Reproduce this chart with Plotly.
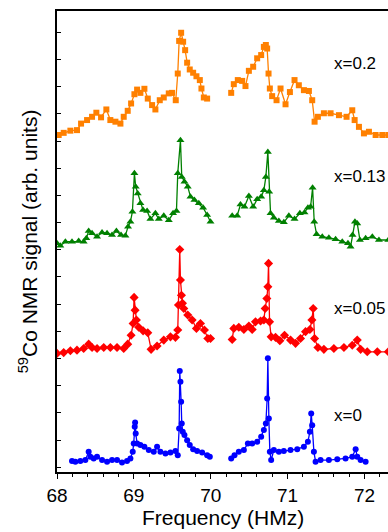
import plotly.graph_objects as go

# ---------------- data ----------------
f_x0 = [68.195, 68.239, 68.304, 68.369, 68.412, 68.434, 68.477, 68.521, 68.586, 68.651, 68.716, 68.781,
        68.846, 68.911, 68.955, 68.985, 68.998, 69.011, 69.016, 69.024, 69.042, 69.085, 69.137, 69.194,
        69.259, 69.302, 69.345, 69.411, 69.476, 69.541, 69.571, 69.589, 69.597, 69.606, 69.615, 69.623,
        69.636, 69.658, 69.693, 69.727, 69.771, 69.823, 69.888, 69.953, 69.988, None,
        70.266, 70.309, 70.365, 70.431, 70.483, 70.539, 70.604, 70.656, 70.691, 70.717, 70.734, 70.743,
        70.756, 70.769, 70.786, 70.821, 70.886, 70.951, 71.038, 71.125, 71.212, 71.264, 71.290, 71.307,
        71.320, 71.342, 71.364, 71.429, 71.537, 71.646, 71.754, 71.841, 71.885, 71.906, 71.950, 72.015]
s_x0 = [0.23, 0.21, 0.23, 0.27, 0.57, 0.39, 0.33, 0.39, 0.27, 0.21, 0.27, 0.27,
        0.18, 0.23, 0.33, 0.57, 0.88, 1.49, 1.65, 1.25, 0.88, 0.82, 0.76, 0.64,
        0.57, 0.76, 0.57, 0.51, 0.55, 0.60, 0.45, 1.43, 3.54, 3.15, 2.41, 1.61,
        1.31, 1.19, 1.00, 0.82, 0.67, 0.60, 0.55, 0.45, 0.39, None,
        0.33, 0.45, 0.57, 0.64, 0.88, 0.88, 0.94, 1.13, 1.37, 1.61, 2.53, 4.01,
        1.80, 0.57, 0.27, 0.64, 0.57, 0.60, 0.64, 0.67, 0.76, 0.94, 1.31, 1.98,
        1.55, 0.57, 0.21, 0.27, 0.27, 0.30, 0.33, 0.39, 0.67, 0.39, 0.27, 0.21]

f_x005 = [68.000, 68.087, 68.174, 68.260, 68.347, 68.412, 68.456, 68.521, 68.608, 68.694, 68.781, 68.868,
          68.920, 68.964, 68.990, 69.003, 69.016, 69.033, 69.063, 69.120, 69.181, 69.224, 69.302, 69.389,
          69.476, 69.541, 69.571, 69.580, 69.597, 69.606, 69.619, 69.632, 69.649, 69.701, 69.758, 69.814,
          69.866, 69.918, 69.962, 69.997, None,
          70.279, 70.300, 70.365, 70.431, 70.496, 70.539, 70.582, 70.648, 70.691, 70.708, 70.730, 70.743,
          70.752, 70.765, 70.786, 70.843, 70.899, 70.960, 71.038, 71.103, 71.168, 71.233, 71.290, 71.316,
          71.333, 71.351, 71.394, 71.472, 71.602, 71.733, 71.841, 71.906, 71.950, 72.036, 72.167, 72.310]
s_x005 = [4.19, 4.22, 4.29, 4.31, 4.37, 4.53, 4.41, 4.37, 4.41, 4.41, 4.41, 4.37,
          4.53, 4.86, 5.29, 6.25, 5.78, 5.42, 5.15, 5.02, 4.95, 4.34, 4.46, 4.68,
          4.80, 4.78, 5.05, 5.97, 8.01, 6.89, 6.33, 6.03, 5.84, 5.60, 5.42, 5.11,
          5.29, 5.05, 4.74, 4.74, None,
          4.70, 5.11, 5.15, 5.07, 5.20, 5.07, 5.35, 5.38, 5.42, 5.84, 6.21, 6.64,
          7.50, 5.35, 4.80, 4.78, 4.66, 4.86, 4.68, 4.56, 4.74, 4.99, 5.07, 5.42,
          5.84, 4.74, 4.41, 4.34, 4.37, 4.41, 4.49, 4.68, 4.34, 4.25, 4.25, 4.25]

f_x013 = [68.000, 68.043, 68.109, 68.195, 68.282, 68.347, 68.382, 68.412, 68.456, 68.521, 68.586, 68.651,
          68.716, 68.773, 68.833, 68.890, 68.924, 68.955, 68.981, 69.007, 69.024, 69.050, 69.085, 69.120,
          69.172, 69.215, 69.280, 69.324, 69.389, 69.454, 69.510, 69.554, 69.571, 69.606, 69.623, 69.658,
          69.701, 69.736, 69.788, 69.845, 69.901, 69.953, 69.997, None,
          70.279, 70.344, 70.387, 70.439, 70.496, 70.552, 70.604, 70.656, 70.691, 70.717, 70.743, 70.760,
          70.778, 70.821, 70.886, 70.951, 71.016, 71.090, 71.160, 71.220, 71.264, 71.299, 71.325, 71.346,
          71.377, 71.451, 71.537, 71.624, 71.711, 71.785, 71.819, 71.845, 71.876, 71.906, 71.941, 72.015,
          72.102, 72.188, 72.310]
s_x013 = [8.24, 8.15, 8.30, 8.30, 8.32, 8.30, 8.42, 8.69, 8.61, 8.48, 8.64, 8.61,
          8.54, 8.69, 8.54, 8.52, 8.85, 9.03, 9.40, 10.81, 10.32, 10.07, 9.71, 9.46,
          9.43, 9.13, 9.34, 9.13, 9.25, 9.09, 9.34, 9.43, 10.81, 12.03, 10.68, 10.50,
          10.32, 9.95, 9.83, 9.71, 9.55, 9.28, 9.03, None,
          9.25, 9.25, 9.67, 9.58, 9.98, 9.58, 9.86, 9.95, 10.19, 10.68, 11.60, 10.13,
          9.34, 9.18, 9.06, 9.01, 9.25, 9.13, 9.34, 9.37, 9.55, 9.58, 10.28, 9.03,
          8.57, 8.48, 8.44, 8.39, 8.30, 8.24, 8.11, 8.54, 9.03, 8.97, 8.36, 8.42,
          8.48, 8.36, 8.36]

f_x02 = [68.022, 68.087, 68.174, 68.260, 68.313, 68.391, 68.456, 68.512, 68.573, 68.642, 68.694, 68.760,
         68.825, 68.868, 68.920, 68.964, 69.007, 69.042, 69.085, 69.137, 69.181, 69.237, 69.280, 69.337,
         69.389, 69.454, 69.497, 69.545, 69.571, 69.589, 69.615, 69.641, 69.667, 69.693, 69.727, 69.771,
         69.814, 69.858, 69.879, 69.910, 69.953, None,
         70.266, 70.300, 70.352, 70.409, 70.452, 70.496, 70.552, 70.604, 70.656, 70.691, 70.717, 70.734,
         70.752, 70.769, 70.799, 70.856, 70.908, 70.973, 71.030, 71.090, 71.146, 71.212, 71.277, 71.320,
         71.351, 71.394, 71.472, 71.559, 71.668, 71.767, 71.841, 71.872, 71.928, 71.993, 72.058, 72.145,
         72.232, 72.310]
s_x02 = [12.22, 12.30, 12.38, 12.40, 12.64, 12.77, 12.89, 13.04, 12.87, 13.16, 12.77, 12.71,
         12.64, 12.89, 13.11, 13.38, 13.72, 13.89, 13.77, 13.92, 13.56, 13.32, 13.16, 13.50,
         13.60, 13.75, 13.77, 13.50, 14.48, 15.68, 15.98, 15.65, 15.34, 14.88, 14.63, 14.51,
         14.38, 14.24, 13.93, 13.60, 13.56, None,
         13.77, 14.09, 14.24, 14.21, 14.02, 14.58, 14.73, 15.04, 15.16, 15.46, 15.53, 15.40,
         14.48, 13.93, 13.65, 13.50, 13.93, 13.35, 13.80, 14.24, 14.05, 13.87, 13.84, 13.50,
         12.71, 12.89, 13.02, 13.02, 12.95, 12.89, 13.13, 12.77, 12.52, 12.28, 12.34, 12.22,
         12.22, 12.22]

series_labels = ["x=0", "x=0.05", "x=0.13", "x=0.2"]
label_y = [1.90, 5.85, 10.68, 14.86]
label_x = 71.577

x_ticks = [68, 69, 70, 71, 72]

# ---------------- figure ----------------
FONT = "Liberation Sans, Arial, sans-serif"
fig = go.Figure()

specs = [
    (f_x0, s_x0, "#0000FF", "circle", 6),
    (f_x005, s_x005, "#FF0000", "diamond", 7),
    (f_x013, s_x013, "#008000", "triangle-up", 7),
    (f_x02, s_x02, "#FF8000", "square", 6),
]
for fx, sy, col, sym, sz in specs:
    fig.add_trace(go.Scatter(
        x=fx, y=sy, mode="lines+markers", connectgaps=False,
        line=dict(color=col, width=1.3),
        marker=dict(color=col, symbol=sym, size=sz, line=dict(width=0)),
        showlegend=False, hoverinfo="skip"))

for txt, yy in zip(series_labels, label_y):
    fig.add_annotation(x=label_x, y=yy, xref="x", yref="y", text=txt, showarrow=False,
                       xanchor="left", yanchor="middle",
                       font=dict(family=FONT, size=17, color="black"))

fig.add_annotation(x=-0.088, y=0.5, xref="paper", yref="paper",
                   text="<sup>59</sup>Co NMR signal (arb. units)", textangle=-90,
                   showarrow=False, xanchor="center", yanchor="middle",
                   font=dict(family=FONT, size=21, color="black"))
fig.add_annotation(x=0.5, y=-0.099, xref="paper", yref="paper",
                   text="Frequency (HMz)", showarrow=False,
                   xanchor="center", yanchor="middle",
                   font=dict(family=FONT, size=21, color="black"))

xr = [68, 72.306]
fig.update_layout(
    width=388, height=532,
    margin=dict(l=57, r=0, t=11, b=60),
    plot_bgcolor="white", paper_bgcolor="white",
    font=dict(family=FONT, color="black"),
    xaxis=dict(range=xr, tickmode="array", tickvals=x_ticks, ticktext=[str(t) for t in x_ticks],
               ticks="outside", ticklen=5, tickwidth=1.2, tickcolor="black",
               minor=dict(dtick=0.2, ticks="outside", ticklen=3, tickwidth=1, tickcolor="black"),
               showline=True, linewidth=2, linecolor="black", mirror=True,
               showgrid=False, zeroline=False,
               tickfont=dict(family=FONT, size=19, color="black")),
    yaxis=dict(range=[-0.17, 16.78], tick0=0, dtick=1, ticks="inside", ticklen=4,
               tickwidth=1, tickcolor="black", showticklabels=False,
               showline=True, linewidth=2, linecolor="black",
               showgrid=False, zeroline=False),
)

fig.write_html("out.html")
